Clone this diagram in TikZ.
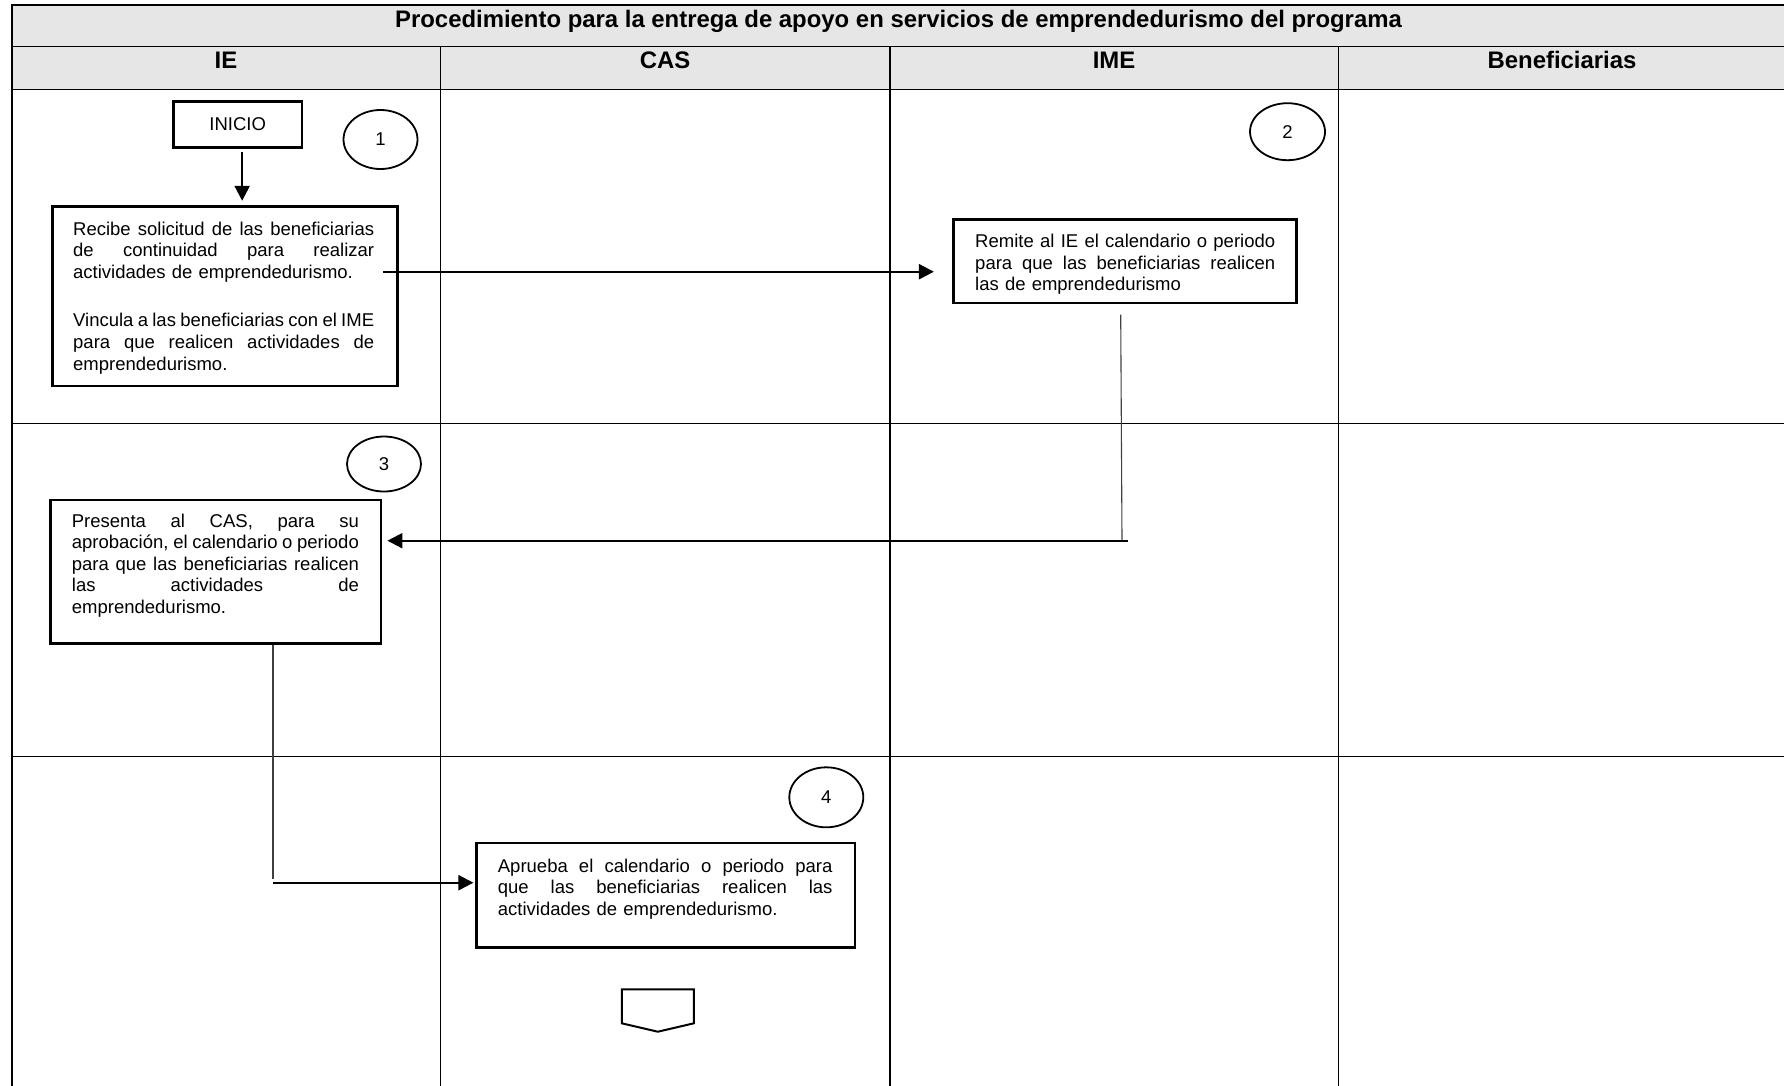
\documentclass[tikz,border=0pt]{standalone}
\usepackage{fontspec}
\setmainfont{Liberation Sans}
\usetikzlibrary{arrows.meta,shapes.geometric}
\newlength{\jw}
\newcommand{\jl}[1]{\makebox[\jw][s]{\spaceskip=0.278em plus 1fil minus 0.09em\relax #1}}
\definecolor{hdrgray}{RGB}{230,230,230}
\begin{document}
\begin{tikzpicture}[x=1pt,y=-1pt,
  gridline/.style={line width=1.6pt},
  box/.style={draw, line width=2.8pt, inner sep=0pt, font=\fontsize{18.5}{21.6}\selectfont},
  txt/.style={inner sep=0pt, align=left, anchor=base west, font=\fontsize{18.5}{21.6}\selectfont},
  circ/.style={draw, ellipse, line width=1.8pt, inner sep=0pt, font=\fontsize{18.5}{21.6}\selectfont},
  hdr/.style={inner sep=0pt, anchor=base, font=\fontsize{23.9}{28}\selectfont\bfseries},
  arr/.style={line width=2.2pt, -{Triangle[length=15pt,width=15pt]}},
  thinline/.style={line width=1.1pt, black!75},
  offpg/.style={line width=2pt}]
\useasboundingbox (0,0) rectangle (1784,1085);
% table
\fill[hdrgray] (11.7,4.7) rectangle (1790,89.3);
\draw[gridline] (1790,4.7) -- (11.7,4.7) -- (11.7,1095);
\draw[gridline] (11.7,46.3) -- (1790,46.3);
\draw[gridline] (11.7,89.3) -- (1790,89.3);
\draw[gridline] (11.7,423.3) -- (1790,423.3);
\draw[gridline] (11.7,756.3) -- (1790,756.3);
\draw[gridline] (440.3,46.3) -- (440.3,1095);
\draw[gridline] (889.8,46.3) -- (889.8,1095);
\draw[gridline] (1338.3,46.3) -- (1338.3,1095);
\node[hdr] (ttl) at (898.5,27.7) {Procedimiento para la entrega de apoyo en servicios de emprendedurismo del programa};
\node[hdr] (hIE) at (226,68.7) {IE};
\node[hdr] (hCAS) at (665,68.7) {CAS};
\node[hdr] (hIME) at (1114,68.7) {IME};
\node[hdr] (hBEN) at (1562,68.7) {Beneficiarias};
% nodes
\node[box, minimum width=128.7pt, minimum height=45.6pt] (i0) at (237.65,124.5) {INICIO};
\node[circ, minimum width=74pt, minimum height=59pt] (n1) at (380.5,139.5) {1};
\node[circ, minimum width=75pt, minimum height=57pt] (n2) at (1287.5,131.7) {2};
\node[circ, minimum width=74pt, minimum height=55pt] (n3) at (384,464) {3};
\node[circ, minimum width=74pt, minimum height=60pt] (n4) at (826.3,797.3) {4};

\node[box, minimum width=345pt, minimum height=179.3pt] (b1) at (225.2,296.35) {};
\node[txt, text width=301pt] (b1t) at (73,235) {\setlength{\jw}{301pt}\jl{Recibe solicitud de las beneficiarias}\\
\jl{de continuidad para realizar}\\
actividades de emprendedurismo.\\[27pt]
\jl{Vincula a las beneficiarias con el IME}\\
\jl{para que realicen actividades de}\\
emprendedurismo.};

\node[box, minimum width=343.4pt, minimum height=83.7pt] (b2) at (1125,261.15) {};
\node[txt, text width=300pt] (b2t) at (975,247.7) {\setlength{\jw}{300pt}\jl{Remite al IE el calendario o periodo}\\
\jl{para que las beneficiarias realicen}\\
las de emprendedurismo};

\node[box, minimum width=330.3pt, minimum height=143.3pt] (b3) at (215.85,571.65) {};
\node[txt, text width=287pt] (b3t) at (71.7,527) {\setlength{\jw}{287pt}\jl{Presenta al CAS, para su}\\
\jl{aprobación, el calendario o periodo}\\
\jl{para que las beneficiarias realicen}\\
\jl{las actividades de}\\
emprendedurismo.};

\node[box, minimum width=378.7pt, minimum height=104.5pt] (b4) at (665.65,895.25) {};
\node[txt, text width=334.6pt] (b4t) at (497.7,872) {\setlength{\jw}{334.6pt}\jl{Aprueba el calendario o periodo para}\\
\jl{que las beneficiarias realicen las}\\
actividades de emprendedurismo.};

% off-page connector
\coordinate (fin) at (657.8,1010);
\draw[offpg] ([shift={(-36,-20.7)}]fin) -- ([shift={(36,-20.7)}]fin) -- ([shift={(36,13.3)}]fin) -- ([shift={(0,21.7)}]fin) -- ([shift={(-36,13.3)}]fin) -- cycle;

% connectors
\draw[arr, shorten <=3pt, shorten >=4.5pt] ([xshift=4.5pt]i0.south) -- ([xshift=4.5pt]i0.south |- b1.north);
\coordinate (a1) at (383,271.7);
\draw[arr, shorten >=18pt] (a1) -- (a1 -| b2.west);
\coordinate (k2) at (1122,540.7);
\draw[thinline] ([xshift=-4.3pt,yshift=-10.3pt]b2.south) -- (k2);
\draw[arr, shorten >=5pt] ([xshift=6pt]k2) -- (k2 -| b3.east);
\coordinate (k3) at (273,882.7);
\draw[thinline] (b3.south -| k3) -- ([yshift=4pt]k3);
\draw[arr, shorten >=1.5pt] (k3) -- (k3 -| b4.west);
\end{tikzpicture}
\end{document}
